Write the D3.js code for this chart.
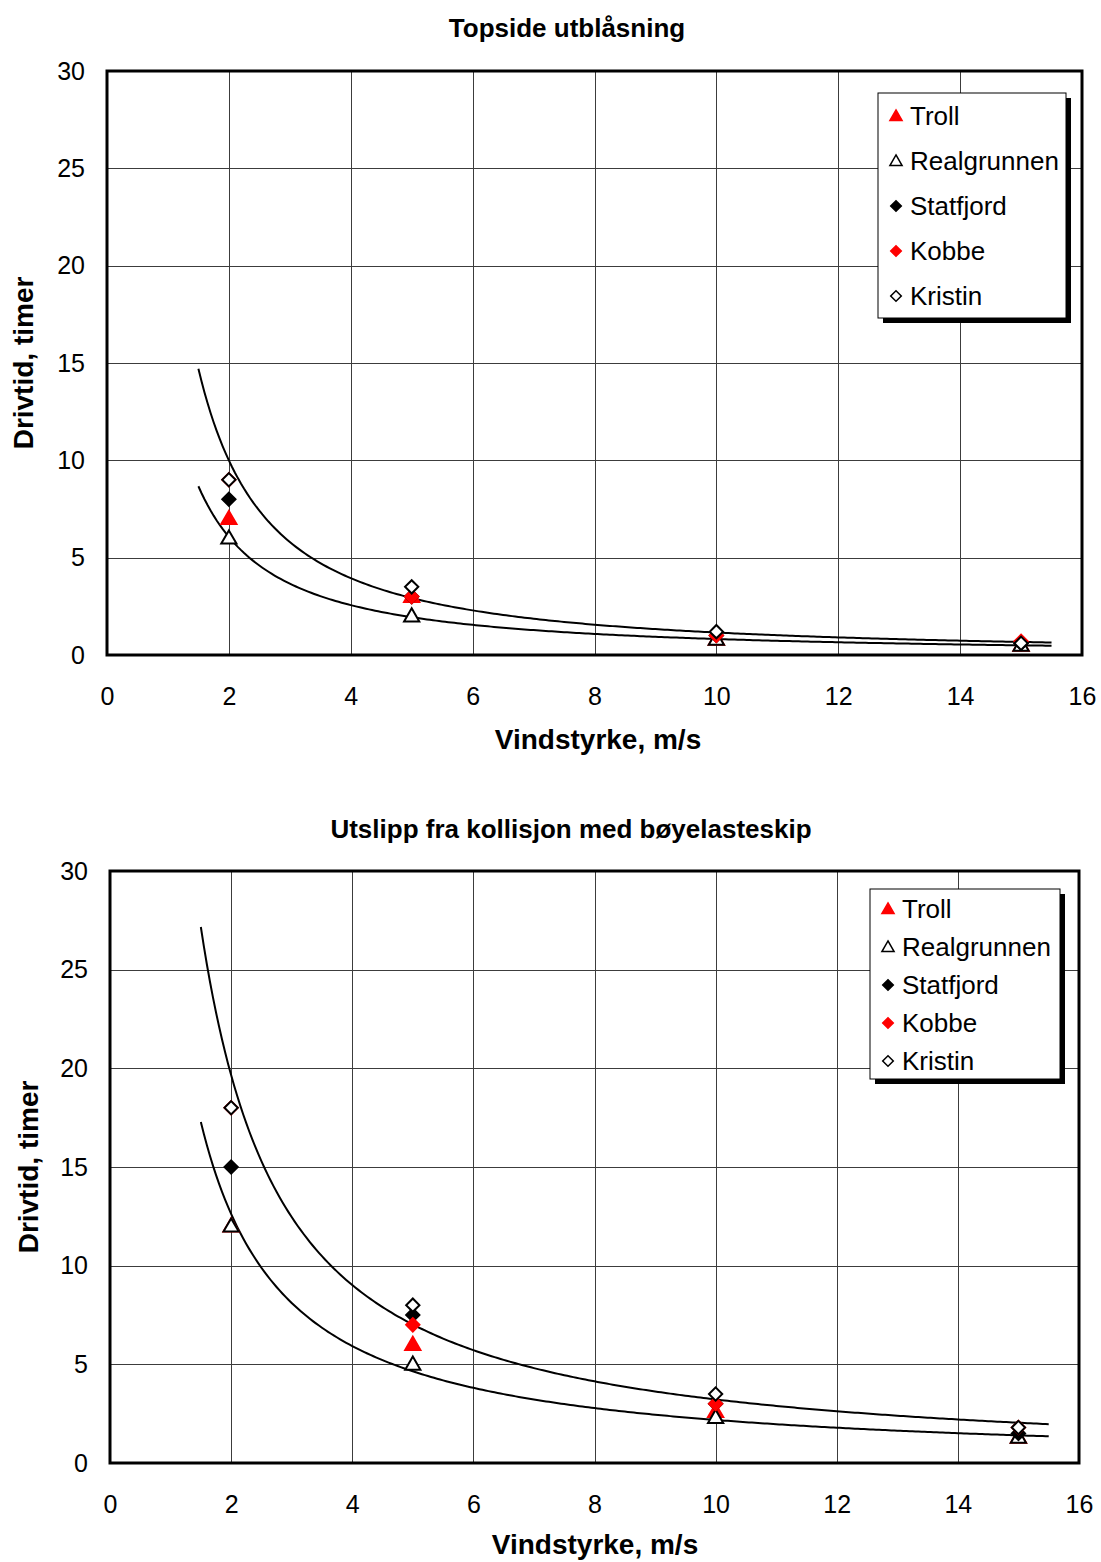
<!DOCTYPE html>
<html><head><meta charset="utf-8">
<script src="https://cdn.jsdelivr.net/npm/d3@7"></script>
<style>body{margin:0;background:#fff;} svg{display:block;font-family:"Liberation Sans",Arial,sans-serif;}</style>
</head><body>
<svg id="c" width="1101" height="1562"></svg>
<script>
const windSpeeds = [2, 5, 10, 15];
const seriesNames = ["Troll", "Realgrunnen", "Statfjord", "Kobbe", "Kristin"];
const xTicks = [0, 2, 4, 6, 8, 10, 12, 14, 16];
const yTicks = [0, 5, 10, 15, 20, 25, 30];

// Chart 1: Topside utblåsning
const topTroll = [7, 3, 0.8, 0.5];
const topRealgrunnen = [6, 2, 0.8, 0.5];
const topStatfjord = [8, 3, 1.0, 0.6];
const topKobbe = [9, 3, 1.0, 0.7];
const topKristin = [9, 3.5, 1.2, 0.6];

// Chart 2: Utslipp fra kollisjon med bøyelasteskip
const botTroll = [12, 6, 2.6, 1.3];
const botRealgrunnen = [12, 5, 2.3, 1.3];
const botStatfjord = [15, 7.5, 3, 1.5];
const botKobbe = [18, 7, 3, 1.8];
const botKristin = [18, 8, 3.5, 1.8];

const trendRange = [1.5, 15.5];

const styles = {
  Troll: {shape: "tri", fill: "#ff0000", stroke: "#ff0000"},
  Realgrunnen: {shape: "tri", fill: "#ffffff", stroke: "#000000"},
  Statfjord: {shape: "dia", fill: "#000000", stroke: "#000000"},
  Kobbe: {shape: "dia", fill: "#ff0000", stroke: "#ff0000"},
  Kristin: {shape: "dia", fill: "#ffffff", stroke: "#000000"}
};

function powerFit(xs, ys) {
  const lx = xs.map(Math.log), ly = ys.map(Math.log);
  const mx = d3.mean(lx), my = d3.mean(ly);
  const b = d3.sum(lx, (v, i) => (v - mx) * (ly[i] - my)) / d3.sum(lx, v => (v - mx) * (v - mx));
  const a = Math.exp(my - b * mx);
  return x => a * Math.pow(x, b);
}

function markerPath(shape, scale) {
  if (shape === "tri") return d3.symbol().type(d3.symbolTriangle).size(100 * scale * scale)();
  return d3.symbol().type(d3.symbolSquare).size(88 * scale * scale)();
}
function markerTransform(shape, px, py) {
  return shape === "tri" ? `translate(${px},${py + 1})` : `translate(${px},${py}) rotate(45)`;
}

const svg = d3.select("#c");

function drawChart(cfg) {
  const g = svg.append("g");
  const x = d3.scaleLinear().domain([0, 16]).range([cfg.left, cfg.right]);
  const y = d3.scaleLinear().domain([0, 30]).range([cfg.bottom, cfg.top]);

  // gridlines
  g.append("g").selectAll("line").data(xTicks.slice(1, -1)).join("line")
    .attr("x1", d => Math.round(x(d)) + 0.5).attr("x2", d => Math.round(x(d)) + 0.5).attr("y1", cfg.top).attr("y2", cfg.bottom)
    .attr("stroke", "#3c3c3c").attr("stroke-width", 1);
  g.append("g").selectAll("line").data(yTicks.slice(1, -1)).join("line")
    .attr("y1", d => Math.round(y(d)) + 0.5).attr("y2", d => Math.round(y(d)) + 0.5).attr("x1", cfg.left).attr("x2", cfg.right)
    .attr("stroke", "#3c3c3c").attr("stroke-width", 1);

  // axes labels via d3 axes
  const xa = g.append("g").attr("transform", `translate(0,${cfg.bottom})`)
    .call(d3.axisBottom(x).tickValues(xTicks).tickSize(0).tickPadding(32));
  const ya = g.append("g").attr("transform", `translate(${cfg.left},0)`)
    .call(d3.axisLeft(y).tickValues(yTicks).tickSize(0).tickPadding(22));
  [xa, ya].forEach(a => {
    a.select(".domain").remove();
    a.selectAll("text").attr("font-size", 25).attr("fill", "#000").attr("font-family", "Liberation Sans, Arial, sans-serif");
  });

  // trendlines
  const xs = d3.range(trendRange[0], trendRange[1] + 0.001, 0.05);
  cfg.fits.forEach(ser => {
    const f = powerFit(windSpeeds, ser);
    g.append("path").datum(xs)
      .attr("d", d3.line().x(d => x(d)).y(d => y(f(d))))
      .attr("fill", "none").attr("stroke", "#000").attr("stroke-width", 2);
  });

  // markers
  seriesNames.forEach(name => {
    const st = styles[name];
    const vals = cfg.series[name];
    g.append("g").selectAll("path").data(windSpeeds.map((w, i) => [w, vals[i]])).join("path")
      .attr("transform", d => markerTransform(st.shape, x(d[0]), y(d[1])))
      .attr("d", markerPath(st.shape, 1))
      .attr("fill", st.fill).attr("stroke", st.stroke).attr("stroke-width", 2);
  });

  // plot frame
  g.append("rect").attr("x", cfg.left).attr("y", cfg.top)
    .attr("width", cfg.right - cfg.left).attr("height", cfg.bottom - cfg.top)
    .attr("fill", "none").attr("stroke", "#000").attr("stroke-width", 3);

  // titles
  g.append("text").attr("x", cfg.titleX).attr("y", cfg.titleY).attr("text-anchor", "middle")
    .attr("font-size", 26).attr("font-weight", "bold").text(cfg.title);
  g.append("text").attr("x", cfg.xTitleX).attr("y", cfg.xTitleY).attr("text-anchor", "middle")
    .attr("font-size", 28).attr("font-weight", "bold").text("Vindstyrke, m/s");
  g.append("text").attr("transform", `translate(${cfg.yTitleX},${cfg.yTitleY}) rotate(-90)`)
    .attr("text-anchor", "middle").attr("font-size", 28).attr("font-weight", "bold").text("Drivtid, timer");

  // legend
  const L = cfg.legend;
  g.append("rect").attr("x", L.x + 5).attr("y", L.y + 5).attr("width", L.w).attr("height", L.h).attr("fill", "#000");
  g.append("rect").attr("x", L.x).attr("y", L.y).attr("width", L.w).attr("height", L.h)
    .attr("fill", "#fff").attr("stroke", "#000").attr("stroke-width", 1);
  seriesNames.forEach((name, i) => {
    const st = styles[name];
    const cy = L.y + L.first + i * L.step;
    g.append("path").attr("transform", markerTransform(st.shape, L.x + 18, cy))
      .attr("d", markerPath(st.shape, 0.8))
      .attr("fill", st.fill).attr("stroke", st.stroke).attr("stroke-width", 1.5);
    g.append("text").attr("x", L.x + 32).attr("y", cy).attr("dy", "0.35em")
      .attr("font-size", 26).text(name);
  });
}

drawChart({
  left: 107, right: 1082, top: 71, bottom: 655,
  title: "Topside utblåsning", titleX: 567, titleY: 37, xTitleX: 598, xTitleY: 749, yTitleX: 33, yTitleY: 363,
  series: {Troll: topTroll, Realgrunnen: topRealgrunnen, Statfjord: topStatfjord, Kobbe: topKobbe, Kristin: topKristin},
  fits: [topKristin, topRealgrunnen],
  legend: {x: 878, y: 93, w: 188, h: 225, first: 23, step: 45}
});

drawChart({
  left: 110, right: 1079, top: 871, bottom: 1463,
  title: "Utslipp fra kollisjon med bøyelasteskip", titleX: 571, titleY: 838, xTitleX: 595, xTitleY: 1554, yTitleX: 38, yTitleY: 1167,
  series: {Troll: botTroll, Realgrunnen: botRealgrunnen, Statfjord: botStatfjord, Kobbe: botKobbe, Kristin: botKristin},
  fits: [botKristin, botRealgrunnen],
  legend: {x: 870, y: 889, w: 190, h: 190, first: 20, step: 38}
});
</script>
</body></html>
